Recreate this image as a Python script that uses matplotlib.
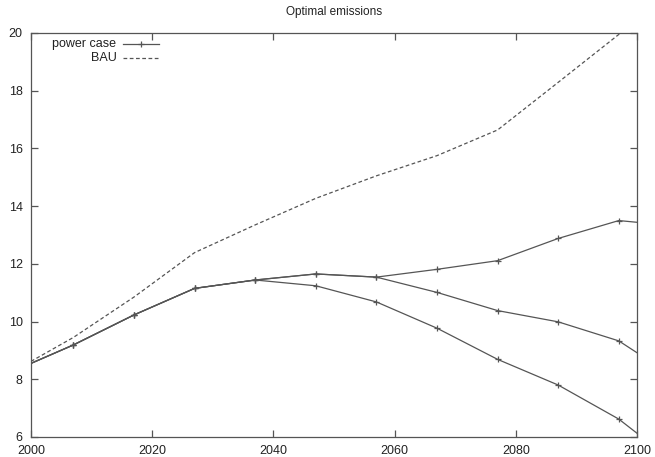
import matplotlib
matplotlib.use("Agg")
import matplotlib.pyplot as plt
from matplotlib.lines import Line2D

plt.rcParams['font.family'] = ['Liberation Sans', 'DejaVu Sans']

# line ends are clipped at the plot edges, markers only at the model years
years = [2000, 2007, 2017, 2027, 2037, 2047, 2057, 2067, 2077, 2087, 2097, 2100]

power_high = [8.55, 9.19, 10.23, 11.15, 11.44, 11.65, 11.54, 11.81, 12.11, 12.88, 13.50, 13.44]
power_mid = [8.55, 9.19, 10.23, 11.15, 11.44, 11.65, 11.54, 11.01, 10.38, 9.99, 9.33, 8.92]
power_low = [8.55, 9.19, 10.23, 11.15, 11.44, 11.24, 10.68, 9.77, 8.69, 7.80, 6.62, 6.13]

bau = [8.62, 9.45, 10.85, 12.39, 13.35, 14.27, 15.05, 15.75, 16.64, 18.29, 19.95, 20.5]

gray = '#555555'

fig = plt.figure(figsize=(6.55, 4.57), dpi=100)
ax = fig.add_axes([0.0473, 0.0438, 0.9252, 0.884])

for series in (power_high, power_mid, power_low):
    ax.plot(years, series, color=gray, lw=0.9, marker='+', ms=5, mew=0.9,
            markevery=slice(1, -1))
ax.plot(years, bau, color=gray, lw=0.9, ls=(0, (3, 2)))

ax.set_xlim(2000, 2100)
ax.set_ylim(6, 20)
ax.set_xticks(range(2000, 2101, 20))
ax.set_yticks(range(6, 21, 2))
ax.tick_params(direction='in', length=5, width=0.9, color=gray,
               top=True, right=True, labelsize=9, labelcolor='#222222')
ax.tick_params(axis='x', pad=6)
ax.tick_params(axis='y', pad=6)
for s in ax.spines.values():
    s.set_color(gray)
    s.set_linewidth(0.9)

ax.set_title('Optimal emissions', fontsize=8.5, color='#222222', pad=13)

# key in the top left corner, labels right-aligned before the samples
ax.text(0.141, 0.972, 'power case', transform=ax.transAxes, ha='right',
        va='center', fontsize=9, color='#222222')
ax.text(0.141, 0.937, 'BAU', transform=ax.transAxes, ha='right',
        va='center', fontsize=9, color='#222222')
ax.add_line(Line2D([0.152, 0.212], [0.972, 0.972], transform=ax.transAxes,
                   color=gray, lw=0.9))
ax.add_line(Line2D([0.182], [0.972], transform=ax.transAxes, color=gray,
                   marker='+', ms=5, mew=0.9, ls='none'))
ax.add_line(Line2D([0.152, 0.212], [0.937, 0.937], transform=ax.transAxes,
                   color=gray, lw=0.9, ls=(0, (3, 2))))

fig.savefig('out.png', dpi=100)
